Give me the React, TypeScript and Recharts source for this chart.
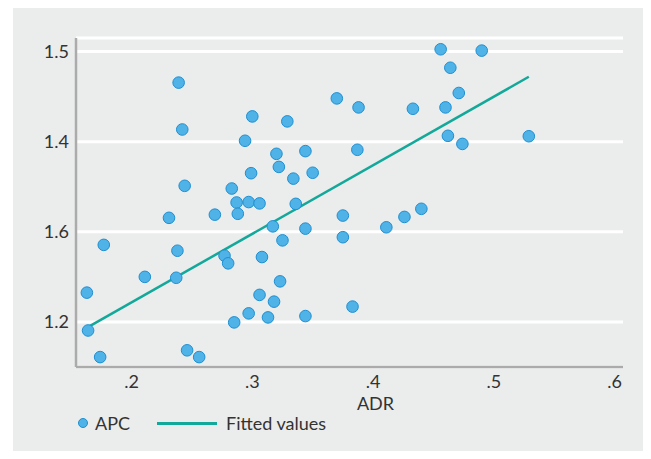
import React from "react";
import { ComposedChart, Scatter, Line, XAxis, YAxis, CartesianGrid } from "recharts";

// ADR values of the APC points
const adrValues = [
  0.456, 0.49, 0.464, 0.239, 0.471, 0.37, 0.388, 0.433, 0.46, 0.3,
  0.329, 0.242, 0.462, 0.529, 0.294, 0.474, 0.344, 0.387, 0.32, 0.322,
  0.299, 0.35, 0.334, 0.244, 0.283, 0.287, 0.297, 0.306, 0.336, 0.288,
  0.269, 0.231, 0.375, 0.44, 0.426, 0.411, 0.317, 0.344, 0.375, 0.325,
  0.177, 0.238, 0.277, 0.28, 0.308, 0.211, 0.237, 0.323, 0.163, 0.306,
  0.318, 0.383, 0.297, 0.344, 0.313, 0.285, 0.164, 0.174, 0.246, 0.256,
];
// APC values of the points
const apcValues = [
  1.805, 1.802, 1.764, 1.731, 1.708, 1.696, 1.676, 1.673, 1.676, 1.656,
  1.645, 1.627, 1.613, 1.612, 1.602, 1.595, 1.579, 1.582, 1.573, 1.544,
  1.53, 1.531, 1.518, 1.502, 1.496, 1.465, 1.466, 1.463, 1.462, 1.44,
  1.438, 1.431, 1.436, 1.451, 1.433, 1.41, 1.412, 1.407, 1.388, 1.381,
  1.371, 1.358, 1.347, 1.33, 1.344, 1.3, 1.298, 1.29, 1.265, 1.26,
  1.245, 1.234, 1.219, 1.213, 1.21, 1.199, 1.181, 1.122, 1.137, 1.122,
];
// Fitted values line end points
const fitAdr = [0.165, 0.529];
const fitApc = [1.19, 1.744];

const xTicks = [0.2, 0.3, 0.4, 0.5, 0.6];
const xTickLabels = [".2", ".3", ".4", ".5", ".6"];
const yTicks = [1.2, 1.4, 1.6, 1.8];
const yTickLabels = ["1.2", "1.6", "1.4", "1.5"];

const apcData = adrValues.map((x, i) => ({ x, y: apcValues[i] }));
const fitData = fitAdr.map((x, i) => ({ x, y: fitApc[i] }));

const FONT = "Lato, 'Open Sans', sans-serif";
const TEXT = "#333333";
const DOT_FILL = "#4FB3E8";
const DOT_STROKE = "#1E8FD2";
const LINE = "#12A89A";
const AXIS = "#ABABAB";

export default function App() {
  return (
    <div style={{ position: "relative", width: 643, height: 451, marginBottom: -8, fontFamily: FONT }}>
      <div style={{ position: "absolute", left: 5, top: 0, width: 638, height: 451, background: "#EBECEC" }} />
      <div style={{ position: "absolute", left: 0, top: 0 }}>
        <ComposedChart
          width={643}
          height={451}
          margin={{ top: 30, right: 28, bottom: 42, left: 8 }}
        >
          <CartesianGrid vertical={false} stroke="#FFFFFF" strokeWidth={3} />
          <XAxis
            type="number"
            dataKey="x"
            domain={[0.154, 0.607]}
            ticks={xTicks}
            interval={0}
            allowDataOverflow
            height={50}
            tickLine={false}
            tickSize={0}
            tickMargin={8}
            axisLine={{ stroke: AXIS, strokeWidth: 2.5 }}
            tick={{ fill: TEXT, fontSize: 18, fontFamily: FONT }}
            tickFormatter={(v: number) => xTickLabels[xTicks.indexOf(v)] ?? String(v)}
            label={{ value: "ADR", position: "insideBottom", offset: 7, dx: 26, fill: TEXT, fontSize: 18, fontFamily: FONT }}
          />
          <YAxis
            type="number"
            dataKey="y"
            domain={[1.1, 1.83]}
            ticks={yTicks}
            interval={0}
            allowDataOverflow
            width={60}
            tickLine={false}
            tickSize={0}
            tickMargin={7}
            axisLine={{ stroke: AXIS, strokeWidth: 2.5 }}
            tick={{ fill: TEXT, fontSize: 18, fontFamily: FONT }}
            tickFormatter={(v: number) => yTickLabels[yTicks.indexOf(v)] ?? String(v)}
          />
          <Line
            data={fitData}
            dataKey="y"
            type="linear"
            stroke={LINE}
            strokeWidth={2.5}
            dot={false}
            activeDot={false}
            isAnimationActive={false}
            name="Fitted values"
          />
          <Scatter
            data={apcData}
            dataKey="y"
            name="APC"
            fill={DOT_FILL}
            stroke={DOT_STROKE}
            strokeWidth={1}
            shape={(p: any) => <circle cx={p.cx} cy={p.cy} r={5.8} fill={DOT_FILL} stroke={DOT_STROKE} strokeWidth={1} />}
            isAnimationActive={false}
          />
        </ComposedChart>
      </div>
      {/* legend */}
      <div style={{ position: "absolute", left: 70, top: 410, width: 10, height: 10, boxSizing: "border-box", borderRadius: "50%", background: DOT_FILL, border: `1px solid ${DOT_STROKE}` }} />
      <div style={{ position: "absolute", left: 87, top: 404, height: 22, lineHeight: "22px", fontSize: 18, color: TEXT, whiteSpace: "nowrap" }}>APC</div>
      <div style={{ position: "absolute", left: 149, top: 413.5, width: 60, height: 3, background: LINE }} />
      <div style={{ position: "absolute", left: 218, top: 404, height: 22, lineHeight: "22px", fontSize: 18, color: TEXT, whiteSpace: "nowrap" }}>Fitted values</div>
    </div>
  );
}
